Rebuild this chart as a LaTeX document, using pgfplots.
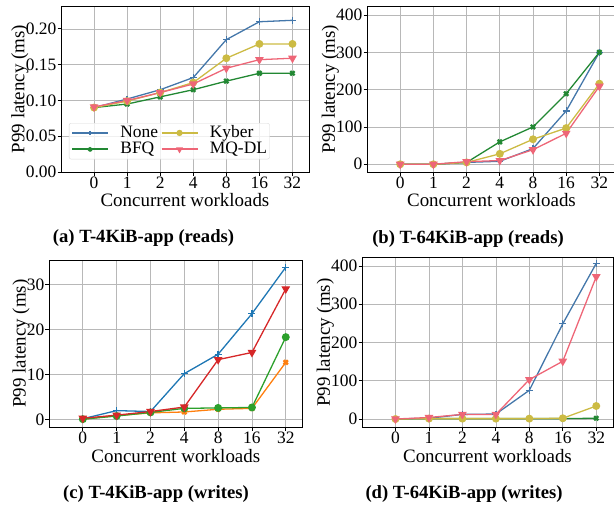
\documentclass[border=0pt]{standalone}
\usepackage{fontspec}
\setmainfont{Liberation Serif}
\usepackage{pgfplots}
\pgfplotsset{compat=1.18}
\definecolor{tA}{HTML}{4477AA}
\definecolor{tB}{HTML}{228833}
\definecolor{tC}{HTML}{CCBB44}
\definecolor{tD}{HTML}{EE6677}
\definecolor{mA}{HTML}{1F77B4}
\definecolor{mB}{HTML}{FF7F0E}
\definecolor{mC}{HTML}{2CA02C}
\definecolor{mD}{HTML}{D62728}
\pgfplotsset{
  base/.style={
    scale only axis,
    xmin=-1, xmax=6.5,
    xtick={0,...,6}, xticklabels={0,1,2,4,8,16,32},
    grid=major,
    grid style={color=black!28, line width=0.7pt},
    axis line style={black, line width=0.8pt},
    tick align=outside, tick pos=left,
    major tick length=3.5bp,
    every tick/.style={black, line width=0.8pt},
    xlabel={Concurrent workloads}, ylabel={P99 latency (ms)},
    tick label style={font=\fontsize{17.5}{17.5}\selectfont},
    label style={font=\fontsize{19}{19}\selectfont},
    xticklabel style={inner sep=1pt},
    yticklabel style={inner sep=1pt},
    xlabel style={inner sep=0pt, yshift=-4pt},
    ylabel style={inner sep=0pt, yshift=-4pt},
    /pgf/number format/assume math mode=true,
    every axis plot/.append style={line width=1.3pt, mark size=3pt},
  },
  sA/.style={mark=+, mark size=3.5pt},
  sB/.style={mark=x, mark size=3pt, mark options={line width=2.4pt}},
  sC/.style={mark=*, mark size=3.3pt},
  sD/.style={mark=triangle*, mark size=3.8pt, mark options={rotate=180}},
}
\pgfplotstableread{
x none bfq kyber mqdl
0 0.090 0.090 0.090 0.091
1 0.102 0.095 0.099 0.100
2 0.115 0.105 0.111 0.111
3 0.132 0.115 0.125 0.123
4 0.185 0.127 0.159 0.145
5 0.210 0.138 0.179 0.157
6 0.212 0.138 0.179 0.159
}\tabA
\pgfplotstableread{
x none bfq kyber mqdl
0 0 0 0 0
1 0 0 0 0
2 5 5 5 7
3 8 60 28 10
4 42 100 67 39
5 143 189 97 83
6 300 300 216 209
}\tabB
\pgfplotstableread{
x none bfq kyber mqdl
0 0.2 0.1 0.1 0.3
1 2.0 0.9 0.8 1.0
2 1.8 1.5 1.6 1.8
3 10.2 1.7 2.5 2.8
4 14.5 2.3 2.6 13.3
5 23.5 2.5 2.7 14.9
6 33.8 12.7 18.3 29.0
}\tabC
\pgfplotstableread{
x none bfq kyber mqdl
0 0 0 0 0
1 2 1 1 4
2 12 1 1 12
3 13 1 1 12
4 75 1 1 103
5 249 1 2 151
6 407 2 34 372
}\tabD
\begin{document}
\begin{tikzpicture}
\useasboundingbox (0,0) rectangle (614bp,-510bp);
% (a)
\begin{axis}[base, at={(61bp,-172bp)}, anchor=south west, width=248bp, height=166bp,
  ymin=0, ymax=0.232, ytick={0,0.05,0.1,0.15,0.2},
  yticklabel style={/pgf/number format/.cd, fixed, fixed zerofill, precision=2},
  legend columns=2, transpose legend, legend cell align=left,
  legend style={at={(0.032,0.295)}, anchor=north west, draw=black!15, rounded corners=2pt,
    fill=white, fill opacity=0.8, text opacity=1, font=\fontsize{17.5}{17.5}\selectfont,
    inner xsep=2pt, inner ysep=1.5pt, row sep=0pt,
    nodes={inner sep=0.5pt, text height=12pt, text depth=3.5pt},
    /tikz/every odd column/.append style={column sep=11pt},
    /tikz/every even column/.append style={column sep=2pt}},
  legend image code/.code={\draw[line width=1.8pt, mark size=2.2pt, mark repeat=2,mark phase=2] plot coordinates {(0bp,0bp) (18bp,0bp) (36bp,0bp)};},
]
\addplot[color=tA, sA] table[x=x,y=none]{\tabA};
\addplot[color=tB, sB] table[x=x,y=bfq]{\tabA};
\addplot[color=tC, sC] table[x=x,y=kyber]{\tabA};
\addplot[color=tD, sD] table[x=x,y=mqdl]{\tabA};
\legend{None,BFQ,Kyber,MQ-DL}
\end{axis}
% (b)
\begin{axis}[base, at={(367bp,-172bp)}, anchor=south west, width=249bp, height=166bp,
  ymin=-20.7, ymax=424, ytick={0,100,200,300,400}]
\addplot[color=tA, sA] table[x=x,y=none]{\tabB};
\addplot[color=tB, sB] table[x=x,y=bfq]{\tabB};
\addplot[color=tC, sC] table[x=x,y=kyber]{\tabB};
\addplot[color=tD, sD] table[x=x,y=mqdl]{\tabB};
\end{axis}
% (c)
\begin{axis}[base, at={(49bp,-427.3bp)}, anchor=south west, width=253.7bp, height=167.3bp,
  ymin=-1.7, ymax=35.4, ytick={0,10,20,30}]
\addplot[color=mA, sA] table[x=x,y=none]{\tabC};
\addplot[color=mB, sB] table[x=x,y=bfq]{\tabC};
\addplot[color=mC, sC] table[x=x,y=kyber]{\tabC};
\addplot[color=mD, sD] table[x=x,y=mqdl]{\tabC};
\end{axis}
% (d)
\begin{axis}[base, at={(362bp,-427.3bp)}, anchor=south west, width=251bp, height=169.6bp,
  ymin=-21.7, ymax=421.7, ytick={0,100,200,300,400}]
\addplot[color=tA, sA] table[x=x,y=none]{\tabD};
\addplot[color=tB, sB] table[x=x,y=bfq]{\tabD};
\addplot[color=tC, sC] table[x=x,y=kyber]{\tabD};
\addplot[color=tD, sD] table[x=x,y=mqdl]{\tabD};
\end{axis}
\node[font=\bfseries\fontsize{18.7}{18.7}\selectfont] at (143.5bp,-238bp) {(a) T-4KiB-app (reads)};
\node[font=\bfseries\fontsize{18.7}{18.7}\selectfont] at (468bp,-239bp) {(b) T-64KiB-app (reads)};
\node[font=\bfseries\fontsize{18.7}{18.7}\selectfont] at (156bp,-494bp) {(c) T-4KiB-app (writes)};
\node[font=\bfseries\fontsize{18.7}{18.7}\selectfont] at (464bp,-494bp) {(d) T-64KiB-app (writes)};
\end{tikzpicture}
\end{document}
